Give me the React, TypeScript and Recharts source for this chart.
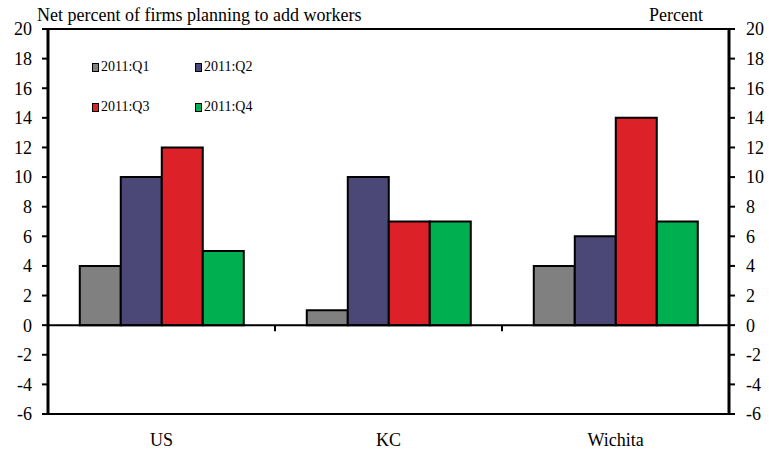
import { Bar, ComposedChart, Line, ReferenceLine, XAxis, YAxis } from "recharts";

const CATEGORIES = ["US", "KC", "Wichita"];
const Q1 = [4, 1, 4];
const Q2 = [10, 10, 6];
const Q3 = [12, 7, 14];
const Q4 = [5, 7, 7];
const Y_TICKS = [-6, -4, -2, 0, 2, 4, 6, 8, 10, 12, 14, 16, 18, 20];

const SERIES = [
  { key: "q1", name: "2011:Q1", color: "#808080" },
  { key: "q2", name: "2011:Q2", color: "#4B4878" },
  { key: "q3", name: "2011:Q3", color: "#DD2129" },
  { key: "q4", name: "2011:Q4", color: "#00B050" },
];

const data = CATEGORIES.map((c, i) => ({ cat: c, q1: Q1[i], q2: Q2[i], q3: Q3[i], q4: Q4[i] }));

const FONT = "'Liberation Serif', 'Times New Roman', serif";
const TICK = { fontSize: 18, fill: "#000", fontFamily: FONT };

// zero line plus small boundary ticks between the categories
function ZeroLine(props: any) {
  const { x1, x2, y1 } = props;
  const n = CATEGORIES.length;
  const marks = [];
  for (let k = 1; k < n; k++) {
    const x = x1 + ((x2 - x1) * k) / n;
    marks.push(<line key={k} x1={x} x2={x} y1={y1} y2={y1 + 6} stroke="#000" strokeWidth={2} />);
  }
  return (
    <g>
      <line x1={x1} x2={x2} y1={y1} y2={y1} stroke="#000" strokeWidth={2} />
      {marks}
    </g>
  );
}

function LegendBox() {
  return (
    <div
      style={{
        position: "absolute",
        left: 92,
        top: 57,
        display: "grid",
        gridTemplateColumns: "103px 100px",
        rowGap: 20,
        fontFamily: FONT,
        fontSize: 14,
        color: "#000",
      }}
    >
      {SERIES.map((s) => (
        <div key={s.key} style={{ display: "flex", alignItems: "center", height: 20 }}>
          <span
            style={{
              display: "inline-block",
              width: 5,
              height: 7,
              background: s.color,
              border: "1.5px solid #000",
              marginRight: 2,
            }}
          />
          {s.name}
        </div>
      ))}
    </div>
  );
}

export default function App() {
  return (
    <div style={{ position: "absolute", left: 0, top: 0, width: 769, height: 452, background: "#fff" }}>
      <div style={{ position: "absolute", left: 37, top: 5, fontFamily: FONT, fontSize: 18, whiteSpace: "nowrap" }}>
        Net percent of firms planning to add workers
      </div>
      <div style={{ position: "absolute", left: 649, top: 5, fontFamily: FONT, fontSize: 18 }}>Percent</div>
      <ComposedChart
        width={769}
        height={452}
        data={data}
        margin={{ top: 29, right: 0, left: 0, bottom: 0 }}
        barCategoryGap="14%"
        barGap={0}
      >
        <XAxis
          dataKey="cat"
          height={38}
          tickLine={false}
          tickSize={0}
          tickMargin={19}
          axisLine={{ stroke: "#000", strokeWidth: 2 }}
          tick={TICK}
        />
        <YAxis
          yAxisId="left"
          width={48}
          domain={[-6, 20]}
          ticks={Y_TICKS}
          interval={0}
          tickSize={6}
          tickMargin={10}
          tickLine={{ stroke: "#000", strokeWidth: 2 }}
          axisLine={{ stroke: "#000", strokeWidth: 3 }}
          tick={TICK}
        />
        <YAxis
          yAxisId="right"
          orientation="right"
          width={40}
          domain={[-6, 20]}
          ticks={Y_TICKS}
          interval={0}
          tickSize={6}
          tickMargin={11}
          tickLine={{ stroke: "#000", strokeWidth: 2 }}
          axisLine={{ stroke: "#000", strokeWidth: 3 }}
          tick={TICK}
        />
        {SERIES.map((s) => (
          <Bar
            key={s.key}
            yAxisId="left"
            dataKey={s.key}
            name={s.name}
            fill={s.color}
            stroke="#000"
            strokeWidth={2}
            isAnimationActive={false}
          />
        ))}
        {/* invisible series so the right axis gets a scale */}
        <Line
          yAxisId="right"
          dataKey="q1"
          stroke="none"
          strokeWidth={0}
          dot={false}
          activeDot={false}
          legendType="none"
          isAnimationActive={false}
        />
        <ReferenceLine yAxisId="left" y={20} stroke="#000" strokeWidth={2} />
        <ReferenceLine yAxisId="left" y={0} shape={ZeroLine} />
      </ComposedChart>
      <LegendBox />
    </div>
  );
}
